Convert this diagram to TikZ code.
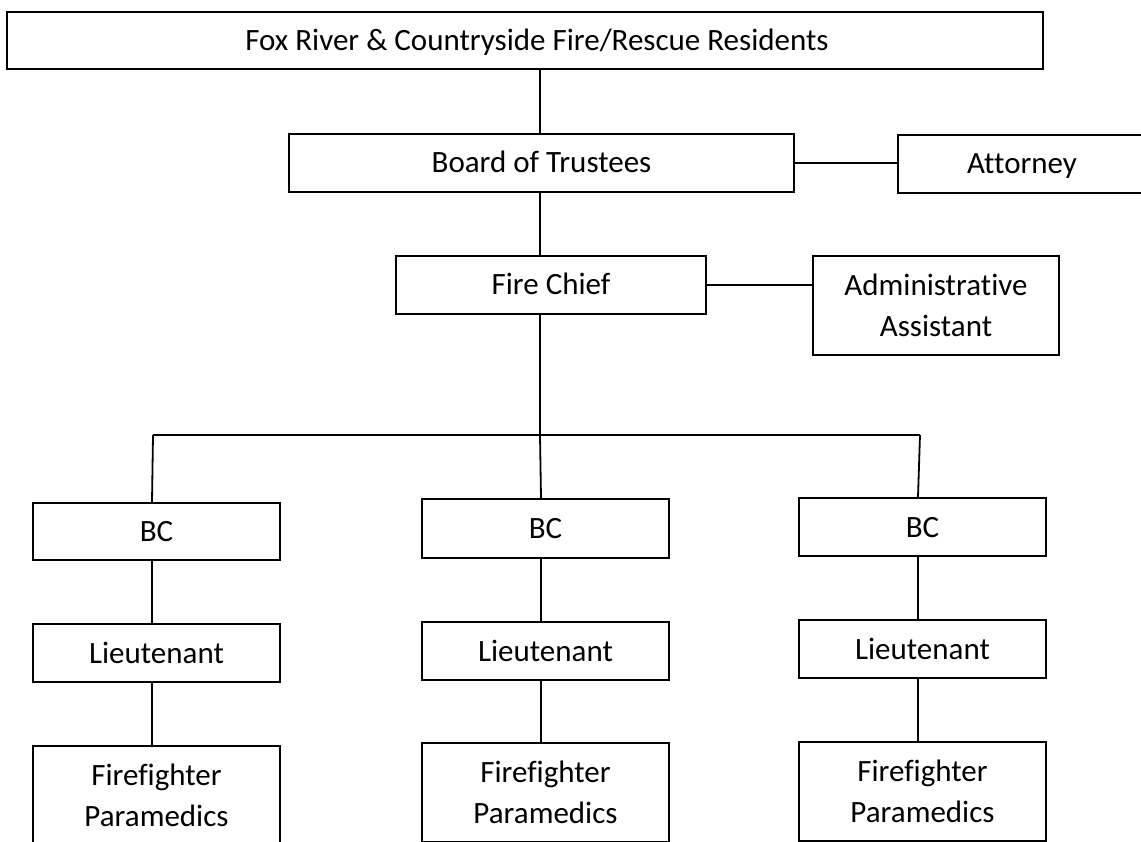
\documentclass[tikz,border=0pt]{standalone}
\usepackage{fontspec}
\setmainfont[Ligatures={NoCommon}]{Carlito}
\begin{document}
\begin{tikzpicture}[x=1pt,y=-1pt,
  line width=1.8pt,
  multibox/.style={draw, rectangle, inner sep=0pt, minimum height=99pt, align=center,
    font=\fontsize{31}{41}\selectfont},
  box/.style={multibox, minimum height=58pt, text height=27pt, text depth=7pt},
  conn/.style={draw, line width=1.8pt}]
\useasboundingbox (0,0) rectangle (1141,842);
\clip (0,0) rectangle (1141,842);
\node[box, minimum width=1036pt, minimum height=57pt] (top) at (525,40.5) {\hspace*{24pt}Fox River \& Countryside Fire/Rescue Residents};
\node[box, minimum width=505pt] (board) at (541.5,163) {Board of Trustees};
\node[box, minimum width=248pt] (atty) at (1022,164) {Attorney};
\node[box, minimum width=310pt] (chief) at (551,285) {Fire Chief};
\node[multibox, minimum width=246pt] (admin) at (936,305.5) {Administrative\\Assistant};
\node[box, minimum width=247pt, minimum height=57pt] (bc1) at (156.5,531.5) {BC};
\node[box, minimum width=247pt] (lt1) at (156.5,653) {Lieutenant};
\node[multibox, minimum width=247pt] (ff1) at (156.5,795.5) {Firefighter\\Paramedics};
\node[box, minimum width=247pt, minimum height=59pt] (bc2) at (545.5,528.5) {BC};
\node[box, minimum width=247pt] (lt2) at (545.5,651) {Lieutenant};
\node[multibox, minimum width=247pt] (ff2) at (545.5,792.5) {Firefighter\\Paramedics};
\node[box, minimum width=247pt] (bc3) at (922.5,527) {BC};
\node[box, minimum width=247pt] (lt3) at (922.5,649) {Lieutenant};
\node[multibox, minimum width=247pt] (ff3) at (922.5,791.5) {Firefighter\\Paramedics};
\coordinate (spine) at (540,100);
\coordinate (bus) at (540,435);
\coordinate (busL) at (153,435);
\coordinate (busR) at (920,435);
\coordinate (c1) at (152,600);
\coordinate (c2) at (541,600);
\coordinate (c3) at (918,600);
\draw[conn] (spine |- top.south) -- (spine |- board.north);
\draw[conn] (spine |- board.south) -- (spine |- chief.north);
\draw[conn] (board.east) -- (atty.west |- board.east);
\draw[conn] (chief.east) -- (admin.west |- chief.east);
\draw[conn] (bus |- chief.south) -- (bus);
\draw[conn] (busL) -- (busR);
\draw[conn] (busL) -- (c1 |- bc1.north);
\draw[conn] (bus) -- (c2 |- bc2.north);
\draw[conn] (busR) -- (c3 |- bc3.north);
\draw[conn] (c1 |- bc1.south) -- (c1 |- lt1.north);
\draw[conn] (c1 |- lt1.south) -- (c1 |- ff1.north);
\draw[conn] (c2 |- bc2.south) -- (c2 |- lt2.north);
\draw[conn] (c2 |- lt2.south) -- (c2 |- ff2.north);
\draw[conn] (c3 |- bc3.south) -- (c3 |- lt3.north);
\draw[conn] (c3 |- lt3.south) -- (c3 |- ff3.north);
\end{tikzpicture}
\end{document}
